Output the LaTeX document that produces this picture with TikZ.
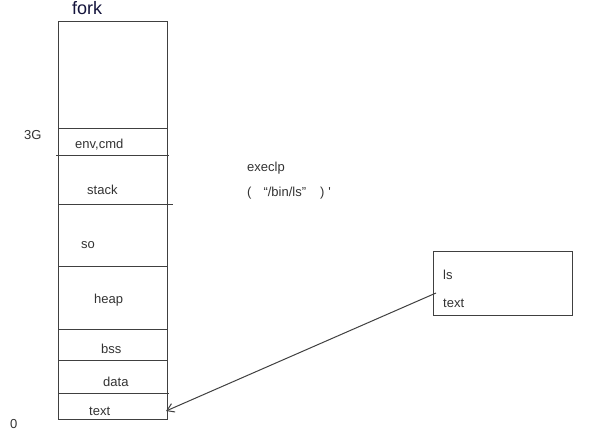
\documentclass[tikz,border=0pt]{standalone}
\usepackage{fontspec}
\setmainfont{Liberation Sans}
\usetikzlibrary{arrows.meta}
\begin{document}
\begin{tikzpicture}[x=1pt,y=-1pt,
  ln/.style={draw=black!75,line width=1pt},
  lbl/.style={text=black!80,font=\fontsize{13}{15}\selectfont,inner sep=0pt,anchor=west}]
\useasboundingbox[fill=white] (0,0) rectangle (598,437);
% memory column
\draw[ln] (58,21) rectangle (167,419);
\draw[ln] (58,128) -- (167,128);
\draw[ln] (56,155) -- (169,155);
\draw[ln] (58,204) -- (173,204);
\draw[ln] (58,266) -- (167,266);
\draw[ln] (58,329) -- (167,329);
\draw[ln] (58,360) -- (167,360);
\draw[ln] (58,393) -- (169,393);
% labels
\node[inner sep=0pt,anchor=west,text={rgb,255:red,20;green,20;blue,60},font=\fontsize{18}{20}\selectfont] (fork) at (72,8) {fork};
\node[lbl] (g3) at (24,135) {3G};
\node[lbl] (zero) at (10,424) {0};
\node[lbl] (env) at (75,145) {env,cmd};
\node[lbl] (stack) at (87,190) {stack};
\node[lbl] (so) at (81,245) {so};
\node[lbl] (heap) at (94,300) {heap};
\node[lbl] (bss) at (101,349) {bss};
\node[lbl] (data) at (103,382) {data};
\node[lbl] (text) at (89,411) {text};
\node[lbl] (exec) at (247,168) {execlp};
\node[lbl] (arg) at (247,193) {(\hspace{12pt}\char"201C/bin/ls\char"201D\hspace{14pt})\hspace{4pt}\textquotesingle};
% ls box
\draw[ln] (433,251) rectangle (572,315);
\node[lbl] (ls) at (443,275) {ls};
\node[lbl] (lstext) at (443,303) {text};
\coordinate (from) at (436,293);
\coordinate (to) at (166,411);
\draw[ln,-{Straight Barb[length=7pt,width=9pt]}] (from) -- (to);
\end{tikzpicture}
\end{document}
